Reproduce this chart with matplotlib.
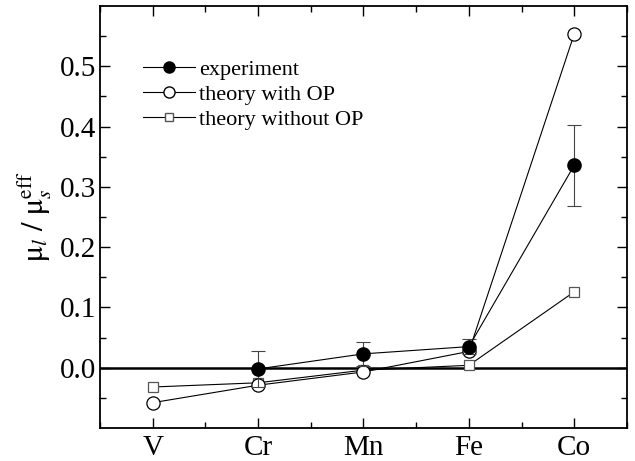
import numpy as np
import matplotlib
matplotlib.use('Agg')
import matplotlib.pyplot as plt
from matplotlib.lines import Line2D

plt.rcParams['font.family'] = 'Liberation Serif'
plt.rcParams['mathtext.fontset'] = 'stix'

# data
elements = ['V', 'Cr', 'Mn', 'Fe', 'Co']
exp_x = [2, 3, 4, 5]
exp_y = [-0.002, 0.023, 0.035, 0.336]
exp_err = [0.03, 0.02, 0.013, 0.067]
op_y = [-0.058, -0.029, -0.007, 0.027, 0.554]
noop_y = [-0.032, -0.025, -0.004, 0.004, 0.126]

x = np.arange(1, len(elements) + 1)

fig = plt.figure(figsize=(6.35, 4.61), dpi=100)
ax = fig.add_axes([100/635, 1 - 428/461, 527/635, 422/461])

ax.axhline(0, color='black', lw=1.8, zorder=1)

ax.plot(x, noop_y, '-s', color='black', lw=0.8, ms=6.5, mfc='white',
        mec='#555555', mew=0.9, zorder=2)
ax.plot(x, op_y, '-o', color='black', lw=0.8, ms=9.5, mfc='white',
        mec='black', mew=0.9, zorder=3)
ax.errorbar(exp_x, exp_y, yerr=exp_err, fmt='-o', color='black', lw=0.8,
            ms=9.5, mfc='black', ecolor='#444444', elinewidth=0.8,
            capsize=5, capthick=0.8, zorder=4)

ax.set_xlim(0.5, 5.5)
ax.set_ylim(-0.1, 0.6)
ax.set_xticks(x)
ax.set_xticklabels(elements)
ax.set_xticks(np.arange(0.5, 5.6, 0.5), minor=True)
ax.set_yticks([0.0, 0.1, 0.2, 0.3, 0.4, 0.5])
ax.set_yticklabels(['0.0', '0.1', '0.2', '0.3', '0.4', '0.5'])
ax.set_yticks(np.arange(-0.05, 0.6, 0.1), minor=True)
ax.tick_params(which='both', direction='in', top=True, right=True,
               labelsize=21, width=1.0)
ax.tick_params(axis='y', which='major', length=7, pad=3)
ax.tick_params(axis='x', which='major', length=7, pad=5)
ax.tick_params(which='minor', length=4)
for s in ax.spines.values():
    s.set_linewidth(1.3)

ax.set_ylabel(r'$\mathrm{\mu}_l\ /\ \mathrm{\mu}_s^{\mathrm{eff}}$', fontsize=22,
              labelpad=4)

handles = [
    Line2D([], [], color='black', lw=0.8, marker='o', ms=8, mfc='black'),
    Line2D([], [], color='black', lw=0.8, marker='o', ms=8, mfc='white'),
    Line2D([], [], color='black', lw=0.8, marker='s', ms=6, mfc='white',
           mec='#555555'),
]
labels = ['experiment', 'theory with OP', 'theory without OP']
ax.legend(handles, labels, loc='upper left', bbox_to_anchor=(0.0555, 0.906),
          frameon=False, fontsize=16, handlelength=2.35, handletextpad=0.2,
          labelspacing=0.21, borderaxespad=0.2)

fig.savefig('out.png', dpi=100)
